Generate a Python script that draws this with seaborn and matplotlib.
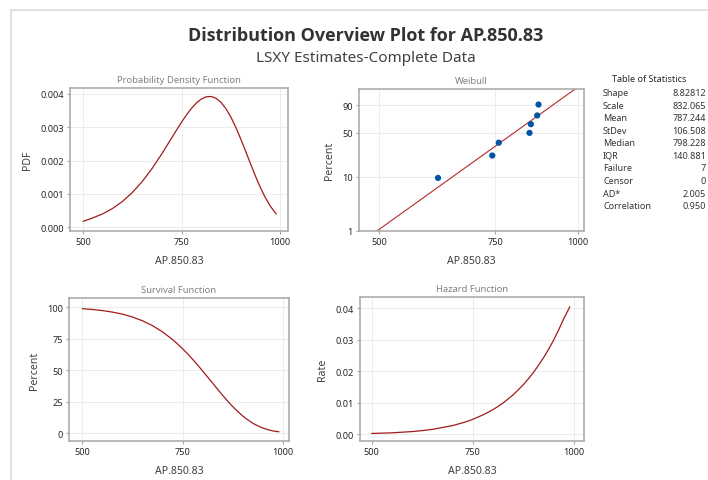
import numpy as np
import pandas as pd
import matplotlib
matplotlib.use("Agg")
import matplotlib.pyplot as plt
from matplotlib.lines import Line2D
from matplotlib.ticker import NullLocator
import seaborn as sns

# curve values
x_vals = [500, 525, 550, 575, 600, 625, 650, 675, 700, 725, 737.5, 750, 762.5,
          775, 787.5, 800, 812.5, 825, 837.5, 850, 862.5, 875, 887.5, 900,
          912.5, 925, 937.5, 950, 962.5, 975, 990]
pdf_vals = [0.00018, 0.000284, 0.000405, 0.000566, 0.000776, 0.001043, 0.001371,
            0.001762, 0.002207, 0.002683, 0.002923, 0.003156, 0.003373,
            0.003566, 0.003728, 0.003847, 0.003916, 0.003926, 0.003872,
            0.003749, 0.003561, 0.003309, 0.003003, 0.002656,
            0.002285, 0.001905, 0.001535, 0.001193, 0.000892, 0.000638, 0.0004]
surv_pct = [98.9, 98.3, 97.4, 96.2, 94.6, 92.3, 89.3, 85.4, 80.5, 74.3, 70.8, 67.0, 63.0,
            58.6, 54.1, 49.3, 44.5, 39.6, 34.7, 29.9, 25.3, 21.0, 17.1, 13.5,
            10.5, 7.8, 5.7, 4.0, 2.7, 1.7, 1.0]
hazard_vals = [0.0002, 0.0003, 0.0004, 0.0006, 0.0008, 0.0011, 0.0015, 0.0021,
               0.0027, 0.0036, 0.0041, 0.0047, 0.0054, 0.0061, 0.0069, 0.0078,
               0.0088, 0.0099, 0.0112, 0.0125, 0.0141, 0.0157, 0.0176, 0.0196,
               0.0219, 0.0243, 0.0270, 0.0299, 0.0332, 0.0367, 0.0405]

# weibull probability plot points and fitted line
weib_x = [614, 742, 759, 845, 849, 868, 872]
weib_pct = [9.46, 22.97, 36.49, 50.0, 63.51, 77.03, 90.54]
fit_x = [496, 991]
fit_pct = [1, 99]

stat_names = ['Shape', 'Scale', 'Mean', 'StDev', 'Median', 'IQR',
              'Failure', 'Censor', 'AD*', 'Correlation']
stat_values = ['8.82812', '832.065', '787.244', '106.508', '798.228', '140.881',
               '7', '0', '2.005', '0.950']

sns.set_theme(style="white")
plt.rcParams['font.family'] = ['Noto Sans', 'DejaVu Sans']

RED = '#a31a1a'
BLUE = '#0054a6'
W, H = 708, 481

curves = pd.DataFrame({'x': x_vals, 'pdf': pdf_vals, 'surv': surv_pct, 'haz': hazard_vals})

fig = plt.figure(figsize=(W / 100, H / 100), dpi=100)


def make_ax(l, t, r, b):
    # pixel box -> figure fraction
    return fig.add_axes([l / W, 1 - b / H, (r - l) / W, (b - t) / H])


def style_ax(ax, title, ylabel):
    ax.set_title(title, fontsize=6.8, color='#808080', pad=4)
    ax.set_xlabel('AP.850.83', fontsize=7.6, color='#404040', labelpad=6)
    ax.set_ylabel(ylabel, fontsize=7.6, color='#404040', labelpad=5)
    for s in ax.spines.values():
        s.set_color('#a6a6a6')
        s.set_linewidth(1.1)
    ax.grid(True, color='#ececec', lw=0.7)
    ax.set_axisbelow(True)
    ax.tick_params(bottom=True, left=True, labelsize=6.6, colors='#a6a6a6',
                   labelcolor='#262626', length=2.5, width=0.8, pad=2)


# Probability density
ax1 = make_ax(70, 89, 288, 232)
sns.lineplot(data=curves, x='x', y='pdf', color=RED, lw=0.9, ax=ax1)
ax1.set_xlim(467, 1020)
ax1.set_ylim(-0.00011, 0.00418)
ax1.set_xticks([500, 750, 1000])
ax1.set_yticks([0, 0.001, 0.002, 0.003, 0.004])
ax1.set_yticklabels(['0.000', '0.001', '0.002', '0.003', '0.004'])
style_ax(ax1, 'Probability Density Function', 'PDF')

# Weibull probability plot
ax2 = make_ax(359, 90, 584, 232)
sns.lineplot(x=fit_x, y=fit_pct, color='#b52a2a', lw=0.8, ax=ax2)
sns.scatterplot(x=weib_x, y=weib_pct, color=BLUE, s=20, edgecolor='none', ax=ax2, zorder=3)
ax2.set_xscale('log')


def wb_fwd(p):
    p = np.clip(np.asarray(p, dtype=float), 1e-6, 100 - 1e-6)
    return np.log(-np.log(1 - p / 100))


def wb_inv(w):
    return 100 * (1 - np.exp(-np.exp(w)))


ax2.set_yscale('function', functions=(wb_fwd, wb_inv))
ax2.set_xlim(466, 1022)
ax2.set_ylim(1, 99)
ax2.set_xticks([500, 750, 1000])
ax2.set_xticklabels(['500', '750', '1000'])
ax2.xaxis.set_minor_locator(NullLocator())
ax2.set_yticks([1, 10, 50, 90])
ax2.set_yticklabels(['1', '10', '50', '90'])
ax2.yaxis.set_minor_locator(NullLocator())
style_ax(ax2, 'Weibull', 'Percent')

# Survival function
ax3 = make_ax(69, 299, 289, 442)
sns.lineplot(data=curves, x='x', y='surv', color=RED, lw=0.9, ax=ax3)
ax3.set_xlim(467, 1015)
ax3.set_ylim(-6.3, 107.4)
ax3.set_xticks([500, 750, 1000])
ax3.set_yticks([0, 25, 50, 75, 100])
style_ax(ax3, 'Survival Function', 'Percent')

# Hazard function
ax4 = make_ax(360, 298, 584, 442)
sns.lineplot(data=curves, x='x', y='haz', color=RED, lw=0.9, ax=ax4)
ax4.set_xlim(471, 1025)
ax4.set_ylim(-0.0022, 0.0436)
ax4.set_xticks([500, 750, 1000])
ax4.set_yticks([0, 0.01, 0.02, 0.03, 0.04])
ax4.set_yticklabels(['0.00', '0.01', '0.02', '0.03', '0.04'])
style_ax(ax4, 'Hazard Function', 'Rate')

# titles
fig.text(366 / W, 1 - 36 / H, 'Distribution Overview Plot for AP.850.83',
         ha='center', va='center', fontsize=13, fontweight='bold', color='#333333',
         family=['Open Sans', 'DejaVu Sans'])
fig.text(366 / W, 1 - 58 / H, 'LSXY Estimates-Complete Data',
         ha='center', va='center', fontsize=11, color='#404040')

# table of statistics
fig.text(649 / W, 1 - 80 / H, 'Table of Statistics', ha='center', va='center',
         fontsize=6.5, color='#262626')
for i, (name, val) in enumerate(zip(stat_names, stat_values)):
    y = 1 - (93.7 + 12.55 * i) / H
    fig.text(603 / W, y, name, ha='left', va='center', fontsize=6.5, color='#333333')
    fig.text(706 / W, y, val, ha='right', va='center', fontsize=6.5, color='#333333')

# light frame at top / left
fig.add_artist(Line2D([11 / W, 11 / W], [0, 1 - 11 / H], color='#dcdcdc', lw=1.2))
fig.add_artist(Line2D([11 / W, 1], [1 - 11 / H, 1 - 11 / H], color='#dcdcdc', lw=1.2))

fig.savefig('out.png', dpi=100)
